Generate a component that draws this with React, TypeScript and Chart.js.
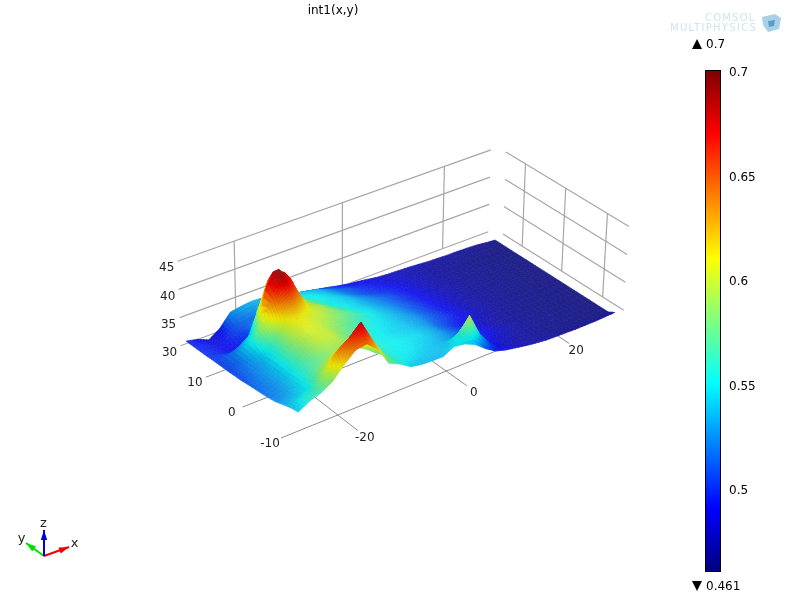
import React, { useEffect, useRef } from "react";
import { Chart, registerables } from "chart.js";

Chart.register(...registerables);

// ---------- data ----------
const xNodes = [-29,-27,-25,-23,-21,-19,-17,-15,-13,-11,-9,-7,-5,-3,-1,1,3,5,7,9,11,13,15,17,19,21,23,25,27,29,31];
const yNodes = [-13,-11.5,-9.5,-7,-4,-1,2,3.5,5,6.5,8,9.5,11,14,17];
const rowM13 = [.543,.559,.568,.585,.615,.640,.645,.620,.574,.561,.543,.538,.536,.536,.550,.546,.534,.513,.496,.488,.483,.478,.474,.471,.470,.469,.468,.468,.468,.469,.470];
const rowM11 = [.540,.555,.565,.600,.641,.660,.688,.633,.586,.560,.550,.545,.540,.537,.540,.561,.596,.539,.506,.485,.478,.472,.470,.467,.465,.463,.462,.462,.461,.461,.461];
const rowM9 = [.533,.540,.550,.580,.600,.620,.640,.600,.575,.560,.550,.550,.545,.540,.535,.530,.525,.515,.500,.490,.480,.473,.470,.468,.465,.464,.463,.462,.461,.461,.461];
const rowM7 = [.523,.530,.545,.565,.575,.585,.590,.580,.570,.560,.553,.550,.548,.545,.538,.530,.520,.510,.500,.492,.484,.477,.472,.469,.467,.465,.463,.462,.461,.461,.461];
const rowM4 = [.517,.525,.540,.565,.585,.600,.600,.585,.570,.560,.552,.548,.543,.540,.535,.528,.515,.505,.495,.487,.480,.474,.470,.467,.465,.464,.463,.462,.462,.461,.461];
const rowM1 = [.513,.525,.540,.570,.595,.605,.600,.590,.580,.570,.560,.552,.546,.540,.533,.527,.517,.508,.500,.492,.485,.478,.473,.469,.467,.465,.464,.463,.462,.461,.461];
const rowP2 = [.508,.522,.535,.565,.605,.615,.605,.600,.590,.580,.570,.558,.548,.540,.532,.523,.513,.505,.497,.489,.482,.476,.472,.469,.467,.465,.464,.463,.462,.461,.461];
const rowP3 = [.507,.520,.540,.585,.630,.645,.620,.600,.592,.578,.565,.553,.546,.538,.530,.521,.512,.504,.496,.489,.482,.476,.472,.469,.467,.465,.464,.463,.462,.461,.461];
const rowP5 = [.505,.518,.545,.600,.660,.685,.650,.600,.590,.575,.560,.550,.543,.535,.527,.519,.511,.503,.495,.488,.481,.476,.472,.469,.467,.465,.464,.463,.462,.461,.461];
const rowP6 = [.504,.517,.545,.570,.675,.700,.668,.600,.580,.565,.555,.548,.542,.533,.525,.517,.509,.501,.494,.487,.481,.475,.472,.469,.467,.465,.464,.463,.462,.461,.461];
const rowP8 = [.503,.515,.530,.550,.620,.683,.672,.608,.580,.565,.552,.545,.540,.531,.523,.515,.508,.500,.493,.486,.480,.475,.472,.469,.467,.465,.464,.463,.462,.461,.461];
const rowP9 = [.502,.505,.500,.510,.580,.650,.625,.590,.570,.560,.550,.545,.538,.528,.519,.511,.505,.498,.491,.485,.479,.474,.471,.468,.466,.465,.464,.463,.462,.461,.461];
const rowP11 = [.500,.497,.490,.492,.505,.560,.585,.575,.560,.553,.550,.542,.533,.522,.512,.505,.499,.495,.490,.484,.479,.474,.471,.468,.466,.465,.464,.463,.462,.461,.461];
const rowP14 = [.498,.495,.487,.500,.510,.515,.525,.530,.545,.545,.540,.535,.525,.515,.508,.500,.495,.490,.485,.481,.477,.473,.470,.468,.466,.465,.464,.463,.462,.461,.461];
const rowP17 = [.496,.490,.478,.496,.528,.533,.536,.534,.530,.525,.515,.510,.505,.500,.494,.489,.486,.482,.478,.476,.475,.474,.472,.470,.469,.468,.468,.467,.466,.463,.461];
const surfaceRows = [rowM13,rowM11,rowM9,rowM7,rowM4,rowM1,rowP2,rowP3,rowP5,rowP6,rowP8,rowP9,rowP11,rowP14,rowP17];

const xTicks = [-20, 0, 20];
const yTicks = [-10, 0, 10];
const zTicks = [30, 35, 40, 45];
const colorTicks = [0.5, 0.55, 0.6, 0.65, 0.7];
const colorRange = [0.461, 0.7];
const titleText = "int1(x,y)";

// ---------- camera ----------
const Z_FLOOR = 28, Z_PER_VALUE = 70;
const corners = { x0: -30, x1: 31, y0: -10, y1: 17 };
const q = [[281,438],[602,308],[495,240],[181,357]];
const hom = (() => {
  const [[x0,y0],[x1,y1],[x2,y2],[x3,y3]] = q;
  const dx1=x1-x2, dx2=x3-x2, sx=x0-x1+x2-x3, dy1=y1-y2, dy2=y3-y2, sy=y0-y1+y2-y3;
  const den=dx1*dy2-dx2*dy1;
  const g=(sx*dy2-dx2*sy)/den, h=(dx1*sy-sx*dy1)/den;
  return {a:x1-x0+g*x1,b:x3-x0+h*x3,c:x0,d:y1-y0+g*y1,e:y3-y0+h*y3,f:y0,g,h};
})();
function project(x: number, y: number, z: number) {
  const u=(x-corners.x0)/(corners.x1-corners.x0), v=(y-corners.y0)/(corners.y1-corners.y0);
  const w=hom.g*u+hom.h*v+1;
  const X=(hom.a*u+hom.b*v+hom.c)/w, Y=(hom.d*u+hom.e*v+hom.f)/w;
  const s=5.47+(Y-250)*0.0015;
  const ph=(z-Z_FLOOR)*s;
  return { x: X+(X-340)*0.00022*ph, y: Y-ph, floorY: Y };
}
const zOf = (v: number) => Z_FLOOR + (v - colorRange[0]) * Z_PER_VALUE;

// ---------- colours ----------
const cl = (t: number) => Math.max(0, Math.min(1, t));
function jet(f: number) {
  return [cl(Math.min(4*f-1.5,-4*f+4.5)), cl(Math.min(4*f-0.5,-4*f+3.5)), cl(Math.min(4*f+0.5,-4*f+2.5))];
}
const fracOf = (v: number) => (v-colorRange[0])/(colorRange[1]-colorRange[0]);

function nodeShade(i: number, j: number) {
  const rows = surfaceRows;
  const jm=Math.max(0,j-1), jp=Math.min(rows.length-1,j+1), im=Math.max(0,i-1), ip=Math.min(xNodes.length-1,i+1);
  const dzdx=(zOf(rows[j][ip])-zOf(rows[j][im]))/(xNodes[ip]-xNodes[im]);
  const dzdy=(zOf(rows[jp][i])-zOf(rows[jm][i]))/(yNodes[jp]-yNodes[jm]);
  const nz=1/Math.hypot(dzdx,dzdy,1);
  return { diff: 0.82+0.18*(1-nz), spec: 0.13*Math.pow(nz,6) };
}
function shadeColor(v: number, diff: number, spec: number) {
  const c=jet(fracOf(v));
  const m=c.map(t=>Math.round(255*Math.min(1,t*diff+spec)));
  return `rgb(${m[0]},${m[1]},${m[2]})`;
}

// ---------- datasets ----------
function buildSurface() {
  const quads: any[] = [];
  const shades = surfaceRows.map((r,j)=>r.map((_,i)=>nodeShade(i,j)));
  for (let j=0;j<yNodes.length-1;j++) for (let i=0;i<xNodes.length-1;i++) {
    const vs=[surfaceRows[j][i],surfaceRows[j][i+1],surfaceRows[j+1][i+1],surfaceRows[j+1][i]];
    const range=Math.max(...vs)-Math.min(...vs);
    const n= range<0.004?2: range<0.015?3: range<0.04?4:6;
    const blend=(a:number[],s:number,t:number)=>a[0]*(1-s)*(1-t)+a[1]*s*(1-t)+a[2]*s*t+a[3]*(1-s)*t;
    const ds=[shades[j][i],shades[j][i+1],shades[j+1][i+1],shades[j+1][i]];
    const xs=[xNodes[i],xNodes[i+1],xNodes[i+1],xNodes[i]];
    const ys=[yNodes[j],yNodes[j],yNodes[j+1],yNodes[j+1]];
    const at=(s:number,t:number)=>project(blend(xs,s,t),blend(ys,s,t),zOf(blend(vs,s,t)));
    for (let a=0;a<n;a++) for (let b=0;b<n;b++) {
      const s0=a/n,s1=(a+1)/n,t0=b/n,t1=(b+1)/n;
      const pts=[at(s0,t0),at(s1,t0),at(s1,t1),at(s0,t1)];
      const sm=(s0+s1)/2,tm=(t0+t1)/2;
      const col=shadeColor(blend(vs,sm,tm),blend(ds.map(d=>d.diff),sm,tm),blend(ds.map(d=>d.spec),sm,tm));
      const depth=project(blend(xs,sm,tm),blend(ys,sm,tm),Z_FLOOR).floorY;
      quads.push({depth,col,pts});
    }
  }
  // nearest first: Chart.js paints the first dataset last
  quads.sort((p,r)=>r.depth-p.depth);
  return quads.map(k=>({
    data:[...k.pts.map((p:any)=>({x:p.x,y:p.y})),{x:k.pts[0].x,y:k.pts[0].y}],
    showLine:true,pointRadius:0,tension:0,fill:"shape",
    backgroundColor:k.col,borderColor:k.col,borderWidth:0.7,
  }));
}
function gridLine(a:number[],b:number[],color:string,width=1) {
  const p=project(a[0],a[1],a[2]),r=project(b[0],b[1],b[2]);
  return {data:[{x:p.x,y:p.y},{x:r.x,y:r.y}],showLine:true,pointRadius:0,fill:false,borderColor:color,borderWidth:width};
}
function buildGrid() {
  const wall="#a6a6a6", floor="#8c8c8c";
  const out:any[]=[];
  const backY=17, rightX=31, leftX=-30, backEnd=29.5, rightStart=15, rightEnd=-15, frontY=-15;
  for (const z of zTicks) {
    out.push(gridLine([leftX,backY,z],[backEnd,backY,z],wall,1.2));
    out.push(gridLine([rightX,rightStart,z],[rightX,rightEnd,z],wall,1.2));
  }
  for (const x of xTicks) {
    out.push(gridLine([x,backY,30],[x,backY,45],wall,1.2));
    out.push(gridLine([x,backY,Z_FLOOR],[x,frontY,Z_FLOOR],floor));
  }
  for (const y of yTicks) {
    out.push(gridLine([rightX,y,30],[rightX,y,45],wall,1.2));
    out.push(gridLine([leftX,y,Z_FLOOR],[rightX,y,Z_FLOOR],floor));
  }
  return out;
}

// ---------- text and furniture ----------
const annotations = {
  id:"annotations",
  afterDraw(chart:any) {
    const {ctx,scales:{x:sx,y:sy}}=chart;
    const px=(a:number)=>sx.getPixelForValue(a), py=(a:number)=>sy.getPixelForValue(a);
    const FONT='12px "DejaVu Sans"';
    ctx.save();
    ctx.font=FONT;ctx.fillStyle="#000";ctx.textAlign="center";ctx.textBaseline="middle";
    ctx.fillText(titleText,px(333),py(11));
    ctx.fillStyle="#222";
    for (const t of xTicks){const p=project(t,-15,Z_FLOOR);ctx.fillText(String(t),px(p.x+7),py(p.y+7));}
    for (const t of yTicks){const p=project(-30,t,Z_FLOOR);ctx.fillText(String(t),px(p.x-11),py(p.y+6));}
    for (const t of zTicks){const p=project(-30,17,t);ctx.fillText(String(t),px(p.x-11),py(p.y+7));}
    // min / max markers
    ctx.fillStyle="#000";ctx.textAlign="left";
    ctx.beginPath();ctx.moveTo(px(692),py(49));ctx.lineTo(px(702),py(49));ctx.lineTo(px(697),py(39));ctx.closePath();ctx.fill();
    ctx.fillText(String(colorRange[1]),px(706),py(45));
    ctx.beginPath();ctx.moveTo(px(692),py(581));ctx.lineTo(px(702),py(581));ctx.lineTo(px(697),py(591));ctx.closePath();ctx.fill();
    ctx.fillText(String(colorRange[0]),px(706),py(587));
    // logo
    ctx.font='10px "DejaVu Sans"';ctx.fillStyle="#cfe4f0";ctx.textBaseline="alphabetic";
    ctx.letterSpacing="1.2px";
    ctx.fillText("COMSOL",px(705),py(21));
    ctx.letterSpacing="1.3px";
    ctx.fillText("MULTIPHYSICS",px(670),py(31));
    ctx.letterSpacing="0px";
    ctx.fillStyle="#a9d0e6";
    ctx.beginPath();[[762,17],[775,14],[781,18],[779,29],[768,32],[763,25]].forEach((p,i)=>i?ctx.lineTo(px(p[0]),py(p[1])):ctx.moveTo(px(p[0]),py(p[1])));ctx.closePath();ctx.fill();
    ctx.fillStyle="#5b9fc9";
    ctx.beginPath();ctx.moveTo(px(768),py(21));ctx.lineTo(px(775),py(20));ctx.lineTo(px(774),py(26));ctx.lineTo(px(769),py(27));ctx.closePath();ctx.fill();
    // orientation triad
    const O=[44,556];
    const arrow=(tip:number[],col:string)=>{
      ctx.strokeStyle=col;ctx.fillStyle=col;ctx.lineWidth=2;
      ctx.beginPath();ctx.moveTo(px(O[0]),py(O[1]));ctx.lineTo(px(tip[0]),py(tip[1]));ctx.stroke();
      const dx=tip[0]-O[0],dy=tip[1]-O[1],L=Math.hypot(dx,dy),ux=dx/L,uy=dy/L;
      const bx=tip[0]-ux*10,by=tip[1]-uy*10;
      ctx.beginPath();ctx.moveTo(px(tip[0]),py(tip[1]));ctx.lineTo(px(bx-uy*3.2),py(by+ux*3.2));ctx.lineTo(px(bx+uy*3.2),py(by-ux*3.2));ctx.closePath();ctx.fill();
    };
    arrow([26,543],"#00e000");arrow([69,547],"#f00000");arrow([44,530],"#0000e0");
    ctx.font='13px "DejaVu Sans"';ctx.fillStyle="#222";ctx.textAlign="center";ctx.textBaseline="middle";
    ctx.fillText("x",px(74.5),py(544));ctx.fillText("y",px(21.5),py(539));ctx.fillText("z",px(43.5),py(524));
    ctx.restore();
  },
};
const barOutline = {
  id:"barOutline",
  afterDatasetsDraw(chart:any){
    const {ctx,chartArea:a}=chart;
    ctx.save();
    ctx.fillStyle="rgb(0,0,128)";ctx.fillRect(a.left,a.bottom-1,a.right-a.left,2.5);
    ctx.strokeStyle="#000";ctx.lineWidth=1;
    ctx.strokeRect(Math.round(a.left)+0.5,Math.round(a.top)-0.5,Math.round(a.right-a.left)-0,Math.round(a.bottom-a.top)+1);
    ctx.restore();
  },
};

export default function App() {
  const mainRef=useRef<HTMLCanvasElement>(null);
  const barRef=useRef<HTMLCanvasElement>(null);
  useEffect(()=>{
    const main=new Chart(mainRef.current!,{
      type:"scatter",
      data:{datasets:[...buildSurface(),...buildGrid()] as any},
      options:{
        animation:false,responsive:false,devicePixelRatio:1,events:[],
        layout:{padding:0},
        scales:{x:{type:"linear",display:false,min:0,max:800},y:{type:"linear",display:false,min:0,max:600,reverse:true}},
        plugins:{legend:{display:false},tooltip:{enabled:false},title:{display:false}},
      } as any,
      plugins:[annotations],
    });
    const bar=new Chart(barRef.current!,{
      type:"bar",
      data:{labels:["int1"],datasets:[{
        data:[colorRange as any],barPercentage:1,categoryPercentage:1,borderWidth:0,
        backgroundColor:(c:any)=>{
          const a=c.chart.chartArea;if(!a)return "#00f";
          const g=c.chart.ctx.createLinearGradient(0,a.bottom,0,a.top);
          [0,.125,.375,.625,.875,1].forEach(f=>{const m=jet(f).map(t=>Math.round(t*255));g.addColorStop(f,`rgb(${m[0]},${m[1]},${m[2]})`);});
          return g;
        },
      }]},
      options:{
        animation:false,responsive:false,devicePixelRatio:1,events:[],
        layout:{padding:{left:5,top:11,bottom:14.5,right:0}},
        scales:{
          x:{display:false,grid:{display:false}},
          y:{
            type:"linear",position:"right",min:colorRange[0],max:colorRange[1],
            grid:{display:false,drawTicks:false},border:{display:false},
            afterBuildTicks:(ax:any)=>{ax.ticks=colorTicks.map(value=>({value}));},
            afterFit:(ax:any)=>{ax.width=60;ax.paddingTop=0;ax.paddingBottom=0;},
            ticks:{autoSkip:false,padding:9,labelOffset:2,color:"#000",font:{family:'"DejaVu Sans"',size:12},callback:(v:any)=>String(v)},
          },
        },
        plugins:{legend:{display:false},tooltip:{enabled:false}},
      } as any,
      plugins:[barOutline],
    });
    return ()=>{main.destroy();bar.destroy();};
  },[]);
  return (
    <div style={{position:"absolute",left:0,top:0,width:800,height:600,background:"#fff"}}>
      <canvas ref={mainRef} width={800} height={600} style={{position:"absolute",left:0,top:0,width:800,height:600}}/>
      <canvas ref={barRef} width={80} height={525} style={{position:"absolute",left:700,top:60,width:80,height:525}}/>
    </div>
  );
}
